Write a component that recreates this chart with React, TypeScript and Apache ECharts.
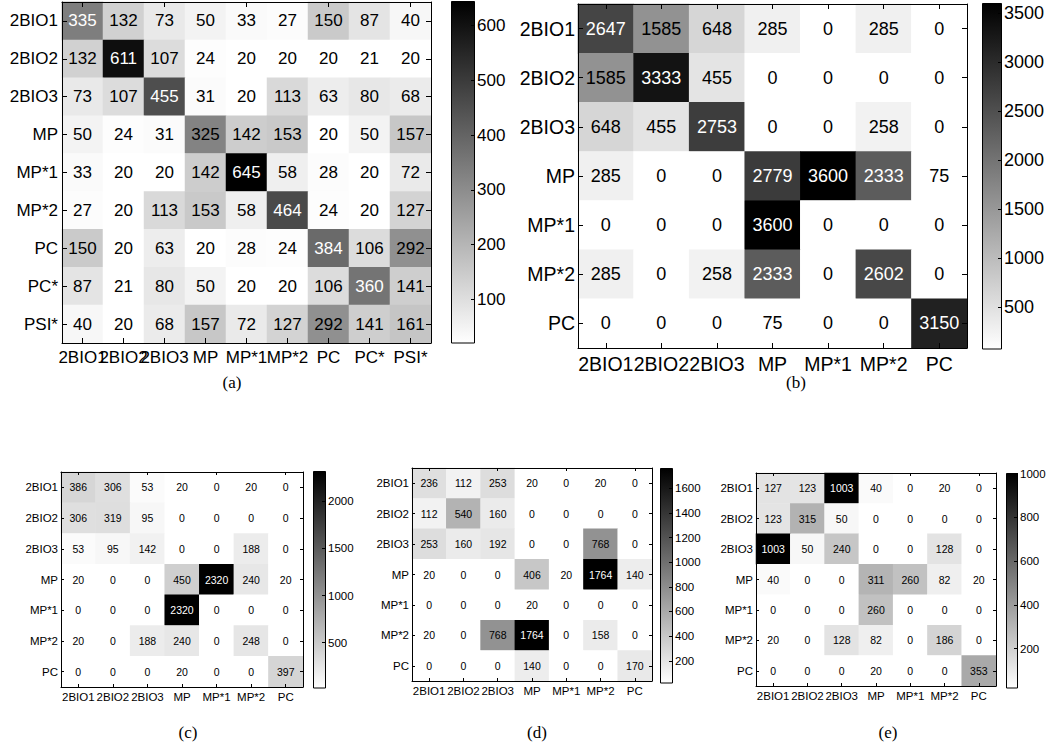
import React, { useEffect, useRef } from 'react';
import * as echarts from 'echarts';

// ---------- data ----------
const labelsA = ['2BIO1', '2BIO2', '2BIO3', 'MP', 'MP*1', 'MP*2', 'PC', 'PC*', 'PSI*'];
const labelsB = ['2BIO1', '2BIO2', '2BIO3', 'MP', 'MP*1', 'MP*2', 'PC'];

const matrixA = [
  [335, 132, 73, 50, 33, 27, 150, 87, 40],
  [132, 611, 107, 24, 20, 20, 20, 21, 20],
  [73, 107, 455, 31, 20, 113, 63, 80, 68],
  [50, 24, 31, 325, 142, 153, 20, 50, 157],
  [33, 20, 20, 142, 645, 58, 28, 20, 72],
  [27, 20, 113, 153, 58, 464, 24, 20, 127],
  [150, 20, 63, 20, 28, 24, 384, 106, 292],
  [87, 21, 80, 50, 20, 20, 106, 360, 141],
  [40, 20, 68, 157, 72, 127, 292, 141, 161],
];

const matrixB = [
  [2647, 1585, 648, 285, 0, 285, 0],
  [1585, 3333, 455, 0, 0, 0, 0],
  [648, 455, 2753, 0, 0, 258, 0],
  [285, 0, 0, 2779, 3600, 2333, 75],
  [0, 0, 0, 3600, 0, 0, 0],
  [285, 0, 258, 2333, 0, 2602, 0],
  [0, 0, 0, 75, 0, 0, 3150],
];

const matrixC = [
  [386, 306, 53, 20, 0, 20, 0],
  [306, 319, 95, 0, 0, 0, 0],
  [53, 95, 142, 0, 0, 188, 0],
  [20, 0, 0, 450, 2320, 240, 20],
  [0, 0, 0, 2320, 0, 0, 0],
  [20, 0, 188, 240, 0, 248, 0],
  [0, 0, 0, 20, 0, 0, 397],
];

const matrixD = [
  [236, 112, 253, 20, 0, 20, 0],
  [112, 540, 160, 0, 0, 0, 0],
  [253, 160, 192, 0, 0, 768, 0],
  [20, 0, 0, 406, 20, 1764, 140],
  [0, 0, 0, 20, 0, 0, 0],
  [20, 0, 768, 1764, 0, 158, 0],
  [0, 0, 0, 140, 0, 0, 170],
];

const matrixE = [
  [127, 123, 1003, 40, 0, 20, 0],
  [123, 315, 50, 0, 0, 0, 0],
  [1003, 50, 240, 0, 0, 128, 0],
  [40, 0, 0, 311, 260, 82, 20],
  [0, 0, 0, 260, 0, 0, 0],
  [20, 0, 128, 82, 0, 186, 0],
  [0, 0, 0, 20, 0, 0, 353],
];

const ticksA = [100, 200, 300, 400, 500, 600];
const ticksB = [500, 1000, 1500, 2000, 2500, 3000, 3500];
const ticksC = [500, 1000, 1500, 2000];
const ticksD = [200, 400, 600, 800, 1000, 1200, 1400, 1600];
const ticksE = [200, 400, 600, 800, 1000];

const captions = ['(a)', '(b)', '(c)', '(d)', '(e)'];

const panels = [
  { labels: labelsA, matrix: matrixA, ticks: ticksA },
  { labels: labelsB, matrix: matrixB, ticks: ticksB },
  { labels: labelsB, matrix: matrixC, ticks: ticksC },
  { labels: labelsB, matrix: matrixD, ticks: ticksD },
  { labels: labelsB, matrix: matrixE, ticks: ticksE },
];

// ---------- layout / style ----------
const FONT = '"Liberation Sans", Arial, Helvetica, sans-serif';
const SERIF = '"Liberation Serif", "DejaVu Serif", serif';

const LAYOUT = [
  { grid: { left: 62, top: 2, width: 369, height: 341 }, bar: { left: 451, top: 1, width: 24, height: 342 }, font: 17, valueFont: 17, barFont: 17, tick: 5, xMargin: 6, yMargin: 4, caption: [232, 382] },
  { grid: { left: 578, top: 4, width: 389, height: 344 }, bar: { left: 982, top: 3, width: 20, height: 346 }, font: 19.5, valueFont: 18, barFont: 18, tick: 5, xMargin: 6, yMargin: 3, caption: [796, 382] },
  { grid: { left: 61, top: 472, width: 242, height: 215 }, bar: { left: 313, top: 471, width: 13, height: 217 }, font: 11.5, valueFont: 10.5, barFont: 11.5, tick: 3, xMargin: 4, yMargin: 3, caption: [188, 732] },
  { grid: { left: 412, top: 468, width: 240, height: 213 }, bar: { left: 660, top: 468, width: 13, height: 215 }, font: 11.5, valueFont: 10.5, barFont: 11.5, tick: 3, xMargin: 4, yMargin: 3, caption: [537, 732] },
  { grid: { left: 756, top: 473, width: 240, height: 213 }, bar: { left: 1006, top: 473, width: 12, height: 215 }, font: 11.5, valueFont: 10.5, barFont: 11.5, tick: 3, xMargin: 4, yMargin: 3, caption: [888, 732] },
];

function buildOption() {
  const grid: any[] = [];
  const xAxis: any[] = [];
  const yAxis: any[] = [];
  const series: any[] = [];
  const visualMap: any[] = [];
  const graphic: any[] = [];

  panels.forEach((p, i) => {
    const L = LAYOUT[i];
    const flat = p.matrix.flat();
    const max = Math.max(...flat);
    const min = Math.min(...flat.filter((v) => v > 0));
    const g = grid.length;
    grid.push({ ...L.grid, show: false }, { ...L.bar, show: false });
    const xi = xAxis.length;
    const yi = yAxis.length;
    const lineStyle = { color: '#000', width: 1 };
    const tick = { show: true, inside: true, alignWithLabel: true, length: L.tick, lineStyle };
    const lbl = { fontFamily: FONT, fontSize: L.font, color: '#000', interval: 0 };

    xAxis.push(
      { type: 'category', gridIndex: g, data: p.labels, position: 'bottom', z: 5, axisLine: { show: true, lineStyle }, axisTick: tick, axisLabel: { ...lbl, margin: L.xMargin }, splitLine: { show: false } },
      { type: 'category', gridIndex: g, data: p.labels, position: 'top', z: 5, axisLine: { show: true, lineStyle }, axisTick: tick, axisLabel: { show: false }, splitLine: { show: false } },
      { type: 'category', gridIndex: g + 1, data: [''], show: false }
    );
    yAxis.push(
      { type: 'category', gridIndex: g, data: p.labels, inverse: true, position: 'left', z: 5, axisLine: { show: true, lineStyle }, axisTick: tick, axisLabel: { ...lbl, margin: L.yMargin }, splitLine: { show: false } },
      { type: 'category', gridIndex: g, data: p.labels, inverse: true, position: 'right', z: 5, axisLine: { show: true, lineStyle }, axisTick: tick, axisLabel: { show: false }, splitLine: { show: false } },
      {
        type: 'value', gridIndex: g + 1, min, max, position: 'right', z: 5,
        axisLine: { show: false },
        axisTick: { show: true, inside: true, length: 4, lineStyle, customValues: p.ticks },
        axisLabel: {
          fontFamily: FONT, fontSize: L.barFont, color: '#000', margin: 2,
          customValues: p.ticks,
          formatter: (v: number) => String(v),
        },
        splitLine: { show: false },
      }
    );

    const data: any[] = [];
    p.matrix.forEach((row, r) => {
      row.forEach((v, c) => {
        const t = (v - min) / (max - min);
        data.push({ value: [c, r, v], label: { color: t > 0.5 ? '#ffffff' : '#000000' } });
      });
    });

    series.push({
      type: 'heatmap',
      xAxisIndex: xi,
      yAxisIndex: yi,
      data,
      label: { show: true, fontFamily: FONT, fontSize: L.valueFont, formatter: (q: any) => String(q.value[2]) },
      itemStyle: { borderWidth: 0 },
      emphasis: { disabled: true },
      silent: true,
    });
    visualMap.push({
      type: 'continuous',
      seriesIndex: series.length - 1,
      dimension: 2,
      min,
      max,
      show: false,
      inRange: { color: ['#ffffff', '#000000'] },
      outOfRange: { color: ['#ffffff'] },
    });

    series.push({
      type: 'bar',
      xAxisIndex: xi + 2,
      yAxisIndex: yi + 2,
      data: [max],
      barWidth: '100%',
      silent: true,
      emphasis: { disabled: true },
      itemStyle: {
        color: new echarts.graphic.LinearGradient(0, 0, 0, 1, [
          { offset: 0, color: '#000000' },
          { offset: 1, color: '#ffffff' },
        ]),
        borderColor: '#000',
        borderWidth: 1,
      },
    });

    graphic.push({
      type: 'text',
      x: L.caption[0],
      y: L.caption[1],
      style: { text: captions[i], fontFamily: SERIF, fontSize: 17, fill: '#000', align: 'center', verticalAlign: 'middle' },
    });
  });

  return {
    animation: false,
    backgroundColor: '#ffffff',
    grid,
    xAxis,
    yAxis,
    visualMap,
    series,
    graphic,
  };
}

export default function App() {
  const ref = useRef<HTMLDivElement>(null);
  useEffect(() => {
    if (!ref.current) return;
    const chart = echarts.init(ref.current, undefined, { renderer: 'svg', width: 1052, height: 748 });
    chart.setOption(buildOption() as any);
    return () => chart.dispose();
  }, []);
  return (
    <div
      ref={ref}
      style={{ position: 'absolute', left: 0, top: 0, width: 1052, height: 748, background: '#fff' }}
    />
  );
}
